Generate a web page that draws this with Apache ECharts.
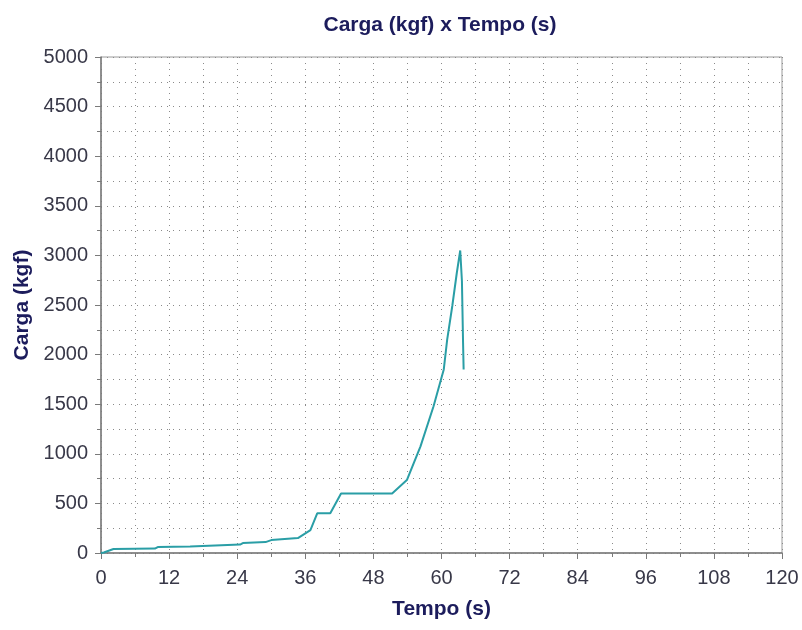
<!DOCTYPE html>
<html>
<head>
<meta charset="utf-8">
<script src="https://cdn.jsdelivr.net/npm/echarts@6/dist/echarts.min.js"></script>
<style>
html,body{margin:0;padding:0;background:#fff;}
#chart{width:802px;height:630px;}
</style>
</head>
<body>
<div id="chart"></div>
<script>
var titleText = "Carga (kgf) x Tempo (s)";
var xName = "Tempo (s)";
var yName = "Carga (kgf)";
var tempo = [0, 0.5, 2.2, 9.5, 10, 15.7, 16, 24.5, 25, 29, 30, 34.7, 36.9, 38.1, 40.4, 42.3, 51.3, 53.9, 56.3, 58.6, 60.4, 61, 61.9, 62.7, 63.3, 63.6, 63.8, 63.9];
var carga = [0, 5, 40, 45, 60, 65, 80, 85, 100, 110, 130, 150, 230, 400, 400, 600, 600, 735, 1075, 1480, 1850, 2150, 2490, 2825, 3050, 2740, 2120, 1850];

var chart = echarts.init(document.getElementById('chart'));
var font = 'Liberation Sans, Arial, sans-serif';
var dotted = {color: '#8a8a8a', width: 1, type: [1, 5]};
chart.setOption({
  animation: false,
  backgroundColor: '#ffffff',
  title: {
    text: titleText,
    left: 435, top: 10, textAlign: 'center',
    textStyle: {fontFamily: font, fontSize: 21, fontWeight: 'bold', color: '#1c1c5c'}
  },
  grid: {left: 101, right: 20, top: 57, bottom: 77, show: true, borderColor: '#9a9a9a', borderWidth: 1, backgroundColor: '#ffffff'},
  xAxis: {
    type: 'value', min: 0, max: 120, interval: 12,
    name: xName, nameLocation: 'middle', nameGap: 46,
    nameTextStyle: {fontFamily: font, fontSize: 21, fontWeight: 'bold', color: '#1c1c5c'},
    axisLine: {show: true, lineStyle: {color: '#7a7a7a', width: 1.5}},
    axisTick: {show: true, length: 6, lineStyle: {color: '#7a7a7a'}},
    minorTick: {show: true, splitNumber: 2, length: 4, lineStyle: {color: '#7a7a7a'}},
    axisLabel: {fontFamily: font, fontSize: 20, color: '#383848', margin: 15},
    splitLine: {show: true, lineStyle: dotted},
    minorSplitLine: {show: true, lineStyle: dotted}
  },
  yAxis: {
    type: 'value', min: 0, max: 5000, interval: 500,
    name: yName, nameLocation: 'middle', nameGap: 60, nameRotate: 90,
    nameTextStyle: {fontFamily: font, fontSize: 21, fontWeight: 'bold', color: '#1c1c5c'},
    axisLine: {show: true, lineStyle: {color: '#7a7a7a', width: 1.5}},
    axisTick: {show: true, length: 6, lineStyle: {color: '#7a7a7a'}},
    minorTick: {show: true, splitNumber: 2, length: 4, lineStyle: {color: '#7a7a7a'}},
    axisLabel: {fontFamily: font, fontSize: 20, color: '#383848', margin: 13,
      formatter: function (v) { return String(v); }},
    splitLine: {show: true, lineStyle: dotted},
    minorSplitLine: {show: true, lineStyle: dotted}
  },
  series: [{
    type: 'line',
    data: tempo.map(function (t, i) { return [t, carga[i]]; }),
    showSymbol: false,
    lineStyle: {color: '#2a9ea6', width: 2},
    itemStyle: {color: '#2a9ea6'}
  }]
});
</script>
</body>
</html>
